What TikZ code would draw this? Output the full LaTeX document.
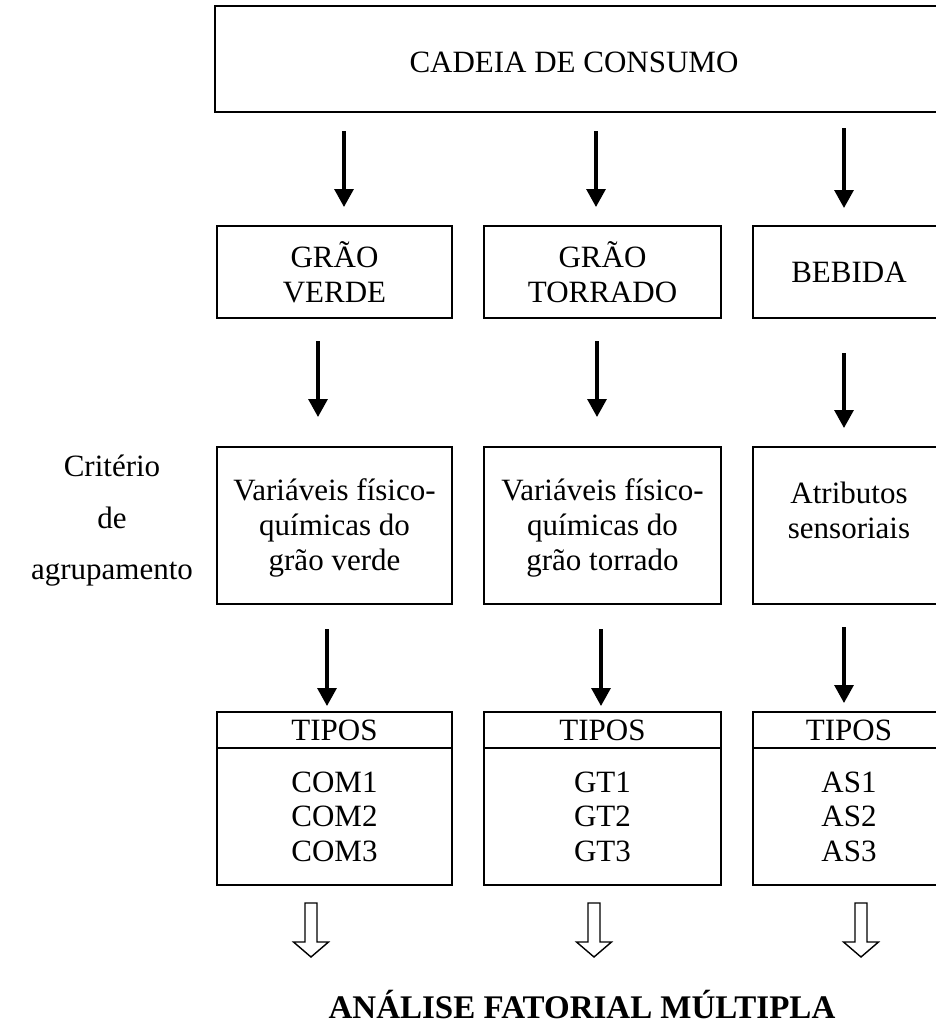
\documentclass[tikz,border=0pt]{standalone}
\usepackage{fontspec}
\setmainfont{Liberation Serif}
\usetikzlibrary{arrows.meta}
\begin{document}
\begin{tikzpicture}[x=1pt,y=-1pt,
  box/.style={draw, line width=2.6pt, rectangle, inner sep=0pt},
  txt/.style={font=\fontsize{31}{35}\selectfont, align=center, inner sep=0pt},
  items/.style={font=\fontsize{31}{34.5}\selectfont, align=center, inner sep=0pt},
  arr/.style={line width=3.2pt, -{Triangle[length=18pt,width=19pt]}},
  hollow/.style={draw, line width=1.4pt, fill=white, line join=miter},
]
\useasboundingbox (0,0) rectangle (936,1028);
\clip (0,0) rectangle (936,1028);

% top box
\node[box, minimum width=800pt, minimum height=106pt] (top) at (615,59) {};
\node[txt] (topt) at (574,62) {CADEIA DE CONSUMO};

% row 2
\node[box, txt, minimum width=235pt, minimum height=92pt] (g1) at (334.5,272) {GRÃO\\VERDE};
\node[box, txt, minimum width=237pt, minimum height=92pt] (g2) at (602.5,272) {GRÃO\\TORRADO};
\node[box, txt, minimum width=192pt, minimum height=92pt] (g3) at (849,272) {BEBIDA};

% row 3
\node[box, minimum width=235pt, minimum height=157pt] (v1) at (334.5,525.5) {};
\node[box, minimum width=237pt, minimum height=157pt] (v2) at (602.5,525.5) {};
\node[box, minimum width=192pt, minimum height=157pt] (v3) at (849,525.5) {};
\node[txt] (v1t) at (334.5,528) {Variáveis físico-\\químicas do\\grão verde};
\node[txt] (v2t) at (602.5,528) {Variáveis físico-\\químicas do\\grão torrado};
\node[txt] (v3t) at (849,510) {Atributos\\sensoriais};

% left labels
\node[txt, anchor=base] (c1) at (112,476) {Critério};
\node[txt, anchor=base] (c2) at (112,528) {de};
\node[txt, anchor=base] (c3) at (112,579) {agrupamento};

% TIPOS boxes
\node[box, txt, minimum width=235pt, minimum height=36pt] (h1) at (334.5,730) {TIPOS};
\node[box, txt, minimum width=237pt, minimum height=36pt] (h2) at (602.5,730) {TIPOS};
\node[box, txt, minimum width=192pt, minimum height=36pt] (h3) at (849,730) {TIPOS};
\node[box, items, minimum width=235pt, minimum height=137pt] (l1) at (334.5,816.5) {COM1\\COM2\\COM3};
\node[box, items, minimum width=237pt, minimum height=137pt] (l2) at (602.5,816.5) {GT1\\GT2\\GT3};
\node[box, items, minimum width=192pt, minimum height=137pt] (l3) at (849,816.5) {AS1\\AS2\\AS3};

% title
\node[font=\fontsize{33}{40}\selectfont\bfseries, inner sep=0pt, anchor=base] (afm) at (582,1018) {ANÁLISE FATORIAL MÚLTIPLA};

% solid arrows
\coordinate (a1s) at (344,131); \coordinate (a1e) at (344,207);
\coordinate (a2s) at (596,131); \coordinate (a2e) at (596,207);
\coordinate (a3s) at (844,128); \coordinate (a3e) at (844,208);
\coordinate (b1s) at (318,341); \coordinate (b1e) at (318,417);
\coordinate (b2s) at (597,341); \coordinate (b2e) at (597,417);
\coordinate (b3s) at (844,353); \coordinate (b3e) at (844,428);
\coordinate (c1s) at (327,629); \coordinate (c1e) at (327,706);
\coordinate (c2s) at (601,629); \coordinate (c2e) at (601,706);
\coordinate (c3s) at (844,627); \coordinate (c3e) at (844,703);
\foreach \p in {a1,a2,a3,b1,b2,b3,c1,c2,c3}{
  \draw[arr] (\p s) -- (\p e);
}

% hollow arrows
\coordinate (h1s) at (311,903);
\coordinate (h2s) at (594,903);
\coordinate (h3s) at (861,903);
\foreach \p in {h1s,h2s,h3s}{
  \draw[hollow] (\p) ++(-6,0) -- ++(0,39) -- ++(-11.5,0) -- ++(17.5,15) -- ++(17.5,-15) -- ++(-11.5,0) -- ++(0,-39) -- cycle;
}
\end{tikzpicture}
\end{document}
